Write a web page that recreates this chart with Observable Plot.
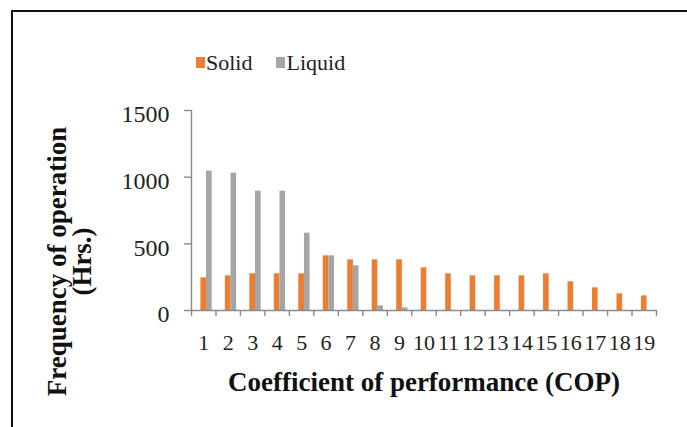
<!DOCTYPE html>
<html><head><meta charset="utf-8">
<script src="https://cdn.jsdelivr.net/npm/d3@7"></script>
<script src="https://cdn.jsdelivr.net/npm/@observablehq/plot@0.6"></script>
<style>
body{margin:0;background:#fff;}
#wrap{position:relative;width:687px;height:427px;overflow:hidden;font-family:"Liberation Serif",serif;}
#frame{position:absolute;left:11px;top:10px;width:720px;height:520px;border-top:2px solid #111;border-left:2px solid #111;}
#chart{position:absolute;left:0;top:0;}
#legend{position:absolute;left:196px;top:46px;}
.lg-swatch{margin-right:24px !important;}
.lg-swatch > svg{margin-right:1px !important;}
</style></head>
<body><div id="wrap"><div id="frame"></div><div id="chart"></div><div id="legend"></div></div>
<script>
const cop = [1,2,3,4,5,6,7,8,9,10,11,12,13,14,15,16,17,18,19];
const solid = [245,260,275,275,275,410,380,380,380,320,275,260,260,260,275,215,170,125,110];
const liquid = [1045,1030,895,895,580,410,335,35,20,0,0,0,0,0,0,0,0,0,0];
const series = ["Solid","Liquid"];
const colors = ["#ED7D31","#A5A5A5"];
const yTicks = [0,500,1000,1500];
const xTitle = "Coefficient of performance (COP)";
const yTitle = "Frequency of operation\n(Hrs.)";

const values = {Solid: solid, Liquid: liquid};
const data = series.flatMap(s => cop.map((c,i) => ({cop:c, series:s, value:values[s][i]})));
// bar placement within each category slot (fraction of slot)
const barW = 0.23;
const startOff = {Solid: -barW/2, Liquid: barW/2};
const boundaries = d3.range(cop[0]-0.5, cop[cop.length-1]+1, 1);
const axisGray = "#8a8a8a";

const plot = Plot.plot({
  width:687, height:427,
  marginLeft:191, marginRight:31, marginTop:110, marginBottom:117,
  style:{fontFamily:"Liberation Serif, serif", fontSize:"22px", color:"#111", background:"transparent", overflow:"visible"},
  x:{domain:[boundaries[0], boundaries[boundaries.length-1]], axis:null},
  y:{domain:[yTicks[0], yTicks[yTicks.length-1]], axis:null},
  color:{domain:series, range:colors},
  marks:[
    Plot.rect(data, {x1: d => d.cop + startOff[d.series], x2: d => d.cop + startOff[d.series] + barW, y1: 0, y2: "value", fill: "series"}),
    Plot.ruleY([yTicks[0]], {stroke:axisGray, strokeWidth:1.4}),
    Plot.ruleX([boundaries[0]], {stroke:axisGray, strokeWidth:1.4}),
    Plot.axisY({ticks:yTicks, tickSize:7, tickFormat:() => "", label:null, stroke:axisGray, strokeWidth:1.4}),
    Plot.axisY({ticks:yTicks, tickSize:0, tickPadding:22, tickFormat:d => String(d), label:null, fontSize:24, dy:4, fill:"#222"}),
    Plot.axisX({ticks:boundaries, tickSize:6, tickFormat:() => "", label:null, stroke:axisGray, strokeWidth:1.4}),
    Plot.axisX({ticks:cop, tickSize:0, tickPadding:24, tickFormat:d => String(d), label:null, fontSize:22, fill:"#222"}),
    Plot.text([yTitle], {frameAnchor:"left", textAnchor:"middle", lineAnchor:"middle", rotate:-90, dx:-121, dy:51, fontSize:27, fontWeight:"bold", lineHeight:0.93, fill:"#111"}),
    Plot.text([xTitle], {frameAnchor:"bottom", textAnchor:"middle", lineAnchor:"middle", dy:72, fontSize:27, fontWeight:"bold", fill:"#111"})
  ]
});
document.getElementById("chart").append(plot);
const lg = Plot.legend({color:{domain:series, range:colors}, swatchWidth:9, swatchHeight:11, className:"lg",
  style:{fontFamily:"Liberation Serif, serif", fontSize:"22px", color:"#222"}});
document.getElementById("legend").append(lg);
</script>
</body></html>
